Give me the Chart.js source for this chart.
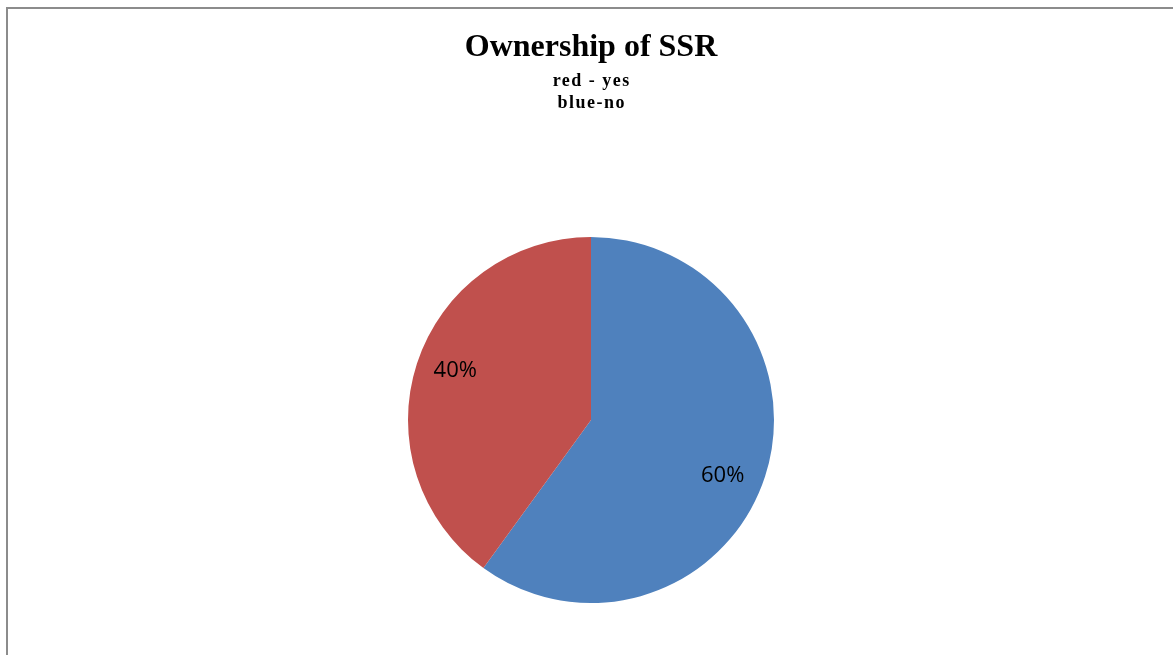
<!DOCTYPE html>
<html>
<head>
<meta charset="utf-8">
<script src="https://cdn.jsdelivr.net/npm/chart.js@4"></script>
<style>
    html, body { margin: 0; padding: 0; background: #fff; }
    #wrap { position: relative; width: 1173px; height: 655px; overflow: hidden; }
    #frame {
        position: absolute; left: 6px; top: 7px; right: -10px; bottom: -10px;
        border-left: 2px solid #8c8c8c; border-top: 2px solid #8c8c8c;
    }
    canvas { position: absolute; left: 0; top: 0; }
</style>
</head>
<body>
<div id="wrap">
    <div id="frame"></div>
    <canvas id="pieChart" width="1173" height="655"></canvas>
</div>
<script>
// Chart data
const labels = ['no', 'yes'];
const shares = [60, 40];
const sliceColors = ['#4F81BD', '#C0504D'];
const titleText = 'Ownership of SSR';
const subtitleLines = ['red - yes', 'blue-no'];

// Subtitle lines under the title, letter-spaced like the original
const spacedSubtitle = {
    id: 'spacedSubtitle',
    afterDraw(chart) {
        const ctx = chart.ctx;
        const cx = (chart.chartArea.left + chart.chartArea.right) / 2;
        const spacing = 1.5;
        ctx.save();
        ctx.font = 'bold 18px "Liberation Serif", "Times New Roman", serif';
        ctx.letterSpacing = spacing + 'px';
        ctx.fillStyle = '#000';
        ctx.textAlign = 'center';
        ctx.textBaseline = 'alphabetic';
        subtitleLines.forEach((line, i) => {
            ctx.fillText(line, cx + spacing / 2, 86 + i * 22);
        });
        ctx.restore();
    }
};

// Draw percentage labels inside each slice
const sliceLabels = {
    id: 'sliceLabels',
    afterDatasetsDraw(chart) {
        const ctx = chart.ctx;
        const meta = chart.getDatasetMeta(0);
        const total = shares.reduce((a, b) => a + b, 0);
        ctx.save();
        ctx.font = '22px "Open Sans", sans-serif';
        ctx.fillStyle = '#000';
        ctx.textAlign = 'center';
        ctx.textBaseline = 'middle';
        meta.data.forEach((arc, i) => {
            const p = arc.getProps(['x', 'y', 'startAngle', 'endAngle', 'outerRadius'], true);
            const mid = (p.startAngle + p.endAngle) / 2 + 0.06;
            const r = p.outerRadius * 0.785;
            const pct = Math.round(shares[i] / total * 100) + '%';
            ctx.fillText(pct, p.x + Math.cos(mid) * r - 2, p.y + Math.sin(mid) * r + 3);
        });
        ctx.restore();
    }
};

new Chart(document.getElementById('pieChart'), {
    type: 'pie',
    data: {
        labels: labels,
        datasets: [{
            data: shares,
            backgroundColor: sliceColors,
            borderWidth: 0,
        }],
    },
    options: {
        responsive: false,
        animation: false,
        layout: { padding: { top: 0, bottom: 52, left: 9, right: 0 } },
        plugins: {
            legend: { display: false },
            tooltip: { enabled: false },
            title: {
                display: true,
                text: titleText,
                color: '#000',
                font: { family: '"Liberation Serif", "Times New Roman", serif', size: 32, weight: 'bold', lineHeight: 1.2 },
                padding: { top: 29, bottom: 169.6 },
            },
        },
    },
    plugins: [sliceLabels, spacedSubtitle],
});
</script>
</body>
</html>
